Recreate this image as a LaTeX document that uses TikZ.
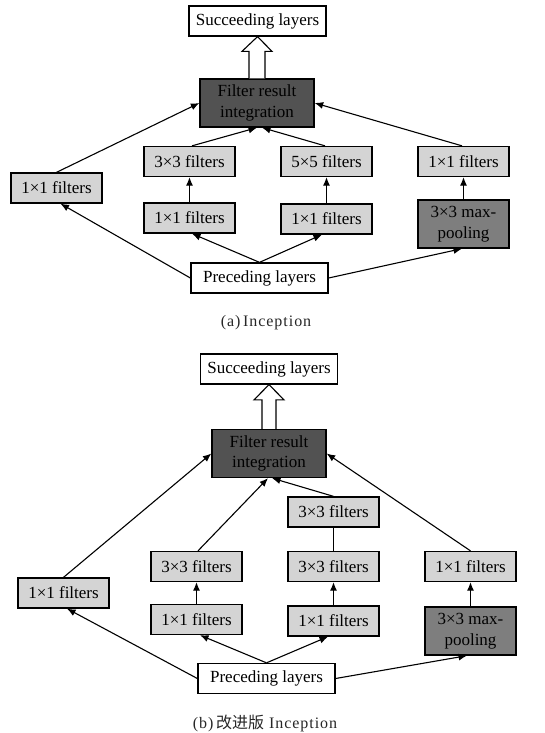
\documentclass[tikz,border=0pt]{standalone}
\usepackage{fontspec}
\setmainfont{Liberation Serif}
\newfontfamily\cjk{Noto Sans CJK SC}
\newfontfamily\captfont[LetterSpace=6]{Liberation Serif}
\usetikzlibrary{arrows.meta,calc}
\definecolor{lightbox}{HTML}{D4D4D4}
\definecolor{darkbox}{HTML}{525252}
\definecolor{poolbox}{HTML}{7E7E7E}
\begin{document}
\begin{tikzpicture}[x=1pt,y=-1pt,
  box/.style={draw, line width=1.3pt, minimum width=91pt, minimum height=30pt, inner sep=0pt,
    font=\fontsize{17}{20.5}\selectfont, fill=lightbox, align=center},
  wbox/.style={box, fill=white, minimum width=137pt},
  intbox/.style={box, fill=darkbox, minimum width=114pt, minimum height=48pt},
  pbox/.style={box, fill=poolbox, minimum height=48pt},
  arr/.style={-{Latex[length=8.5pt,width=7pt]}, line width=1.1pt},
  plain/.style={line width=0.7pt},
  hollow/.style={draw, fill=white, line width=1.1pt, line join=miter},
  capt/.style={font=\captfont\fontsize{16}{18}\selectfont, text=black!85}
]
\useasboundingbox (0,0) rectangle (544,733);

% ---------------- (a) ----------------
\node[wbox] (sucA) at (257.5,21) {Succeeding layers};
\node[intbox] (friA) at (257,103) {Filter result\\integration};
\node[box] (l1A) at (56.5,188) {1×1 filters};
\node[box] (c3A) at (189.5,161.5) {3×3 filters};
\node[box] (c5A) at (326.5,161.5) {5×5 filters};
\node[box] (r1A) at (463.5,161.5) {1×1 filters};
\node[box] (m1A) at (189.5,218) {1×1 filters};
\node[box] (n1A) at (326.5,219) {1×1 filters};
\node[pbox] (mpA) at (463.5,224) {3×3 max-\\pooling};
\node[wbox] (preA) at (259.5,278) {Preceding layers};
\node[capt] (capA) at (266,323) {(a)\,Inception};

\draw[hollow] ($(friA.north)+(-8,0)$) -- ($(friA.north)+(-8,-27)$) -- ($(friA.north)+(-15,-27)$)
  -- (sucA.south) -- ($(friA.north)+(15,-27)$) -- ($(friA.north)+(8,-27)$) -- ($(friA.north)+(8,0)$);

\draw[arr] (preA.west) -- ($(l1A.south)+(4,0)$);
\draw[arr] (preA.north) -- ($(m1A.south)+(2.5,0)$);
\draw[arr] (preA.north) -- ($(n1A.south)+(-4.5,0)$);
\draw[arr] (preA.east) -- ($(mpA.south)+(-1.5,0)$);
\draw[arr] (m1A) -- (c3A);
\draw[arr] (n1A) -- (c5A);
\draw[arr] (mpA) -- (r1A);
\draw[arr] (l1A.north) -- (friA.west);
\draw[arr] ($(c3A.north)+(2.5,0)$) -- ($(friA.south)+(0,0)$);
\draw[arr] ($(c5A.north)+(-1.5,0)$) -- ($(friA.south)+(5,0)$);
\draw[arr] ($(r1A.north)+(-1.5,0)$) -- (friA.east);

% ---------------- (b) ----------------
\node[wbox] (sucB) at (269,369) {Succeeding layers};
\node[intbox] (friB) at (269,453.5) {Filter result\\integration};
\node[box] (l1B) at (63.5,593) {1×1 filters};
\node[box] (c3B) at (196.5,566.5) {3×3 filters};
\node[box] (m1B) at (196.5,619.5) {1×1 filters};
\node[box] (t3B) at (333.5,512) {3×3 filters};
\node[box] (d3B) at (333.5,566.5) {3×3 filters};
\node[box] (n1B) at (333.5,621) {1×1 filters};
\node[box] (r1B) at (470.5,566.5) {1×1 filters};
\node[pbox] (mpB) at (470.5,631) {3×3 max-\\pooling};
\node[wbox] (preB) at (266.5,678.5) {Preceding layers};
\node[capt] (capB) at (265,723) {(b)\,{\cjk 改进版}\ Inception};

\draw[hollow] ($(friB.north)+(-7,0)$) -- ($(friB.north)+(-7,-29)$) -- ($(friB.north)+(-15,-29)$)
  -- (sucB.south) -- ($(friB.north)+(15,-29)$) -- ($(friB.north)+(7,-29)$) -- ($(friB.north)+(7,0)$);

\draw[arr] (preB.west) -- ($(l1B.south)+(3.5,0)$);
\draw[arr] (preB.north) -- ($(m1B.south)+(3.5,0)$);
\draw[arr] (preB.north) -- ($(n1B.south)+(-5.5,0)$);
\draw[arr] (preB.east) -- ($(mpB.south)+(-3.5,0)$);
\draw[arr] (m1B) -- (c3B);
\draw[arr] (n1B) -- (d3B);
\draw[plain] (d3B) -- (t3B);
\draw[arr] (mpB) -- (r1B);
\draw[arr] (l1B.north) -- (friB.west);
\draw[arr] ($(c3B.north)+(1.5,0)$) -- ($(friB.south)+(-1,0)$);
\draw[arr] (t3B.north) -- ($(friB.south)+(3,0)$);
\draw[arr] (r1B.north) -- (friB.east);
\end{tikzpicture}
\end{document}
